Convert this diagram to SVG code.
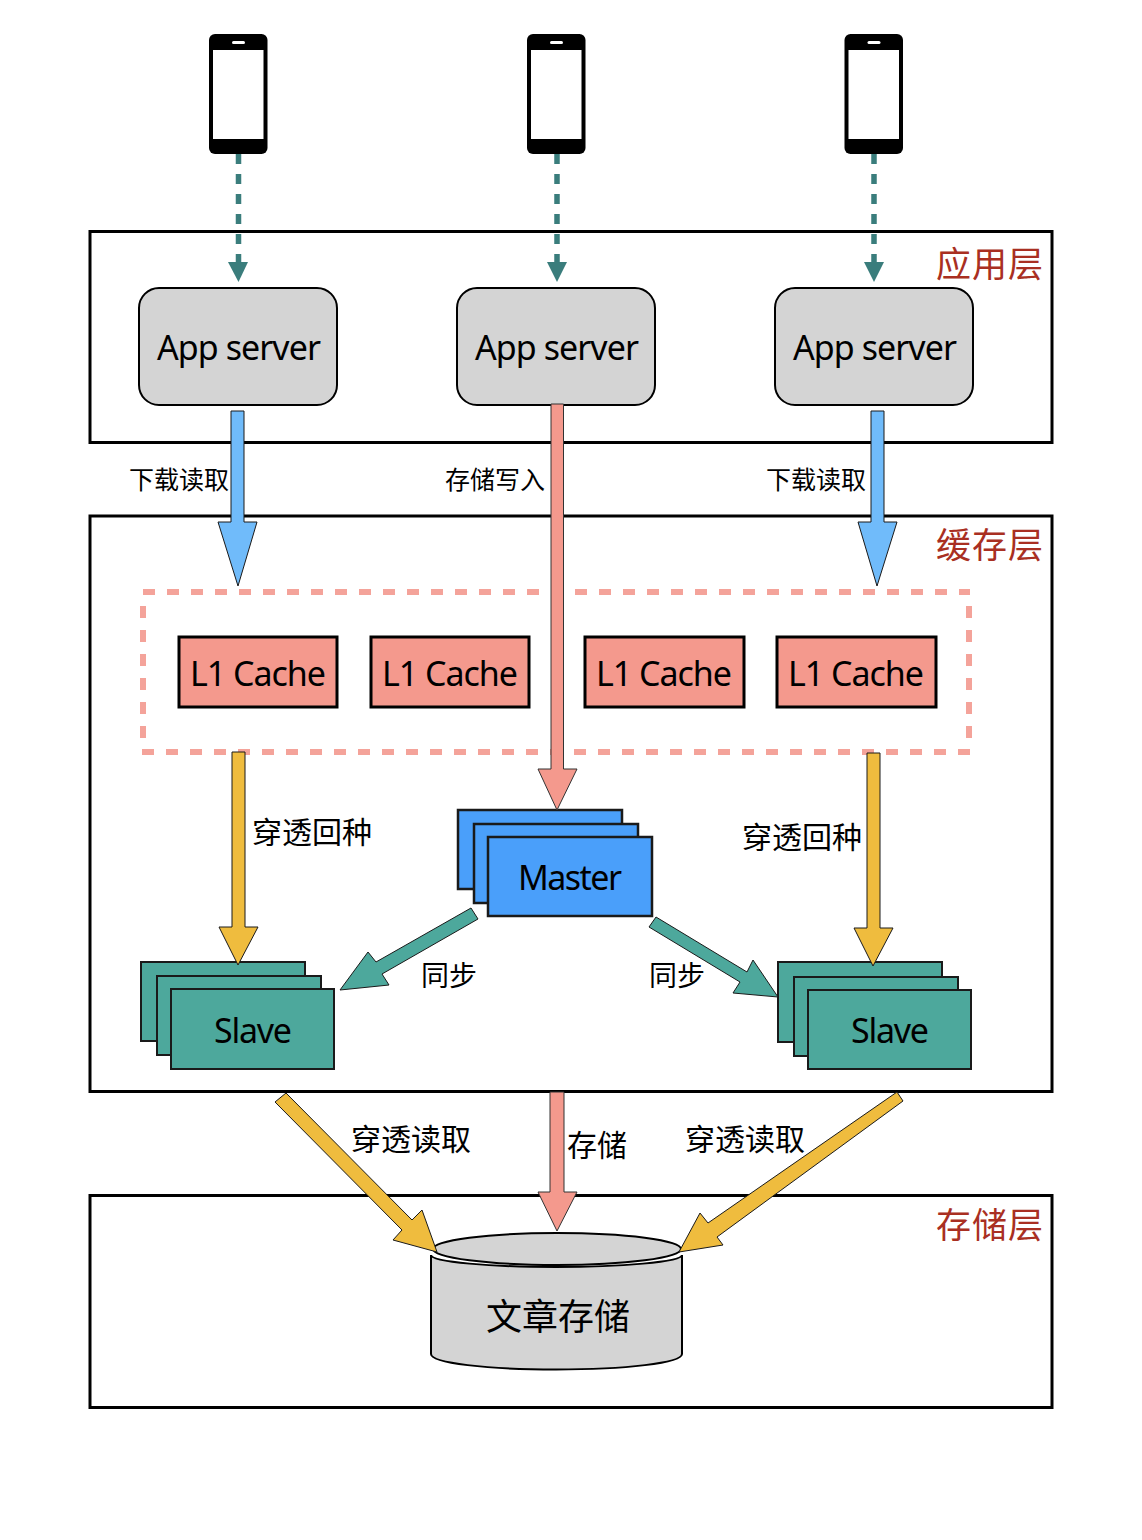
<svg xmlns="http://www.w3.org/2000/svg" width="1142" height="1540" viewBox="0 0 1142 1540">
<style>
text{font-family:"Noto Sans CJK SC","Noto Sans",sans-serif;fill:#000;text-anchor:middle;dominant-baseline:central}
.layer{fill:none;stroke:#000;stroke-width:3}
.latin{font-family:"Noto Sans","Noto Sans CJK SC",sans-serif}
.ln{font-size:34px}
.red{font-size:35px;fill:#a92f22;letter-spacing:1px}
.s25{font-size:25px}
.s30{font-size:30px}
.s28{font-size:28px}
.app{fill:#d4d4d4;stroke:#000;stroke-width:2}
.l1{fill:#f4998d;stroke:#000;stroke-width:3}
.m{fill:#4a9ffa;stroke:#1a1a1a;stroke-width:2.5}
.sl{fill:#4da89c;stroke:#1a1a1a;stroke-width:2}
.blue{fill:#70bbfa;stroke:#1a1a1a;stroke-width:1}
.pink{fill:#f4998d;stroke:#333;stroke-width:1}
.yel{fill:#efbc3e;stroke:#1a1a1a;stroke-width:1}
.teal{fill:#4da89c;stroke:#1a1a1a;stroke-width:1}
.dash{stroke:#3a7d7c;stroke-width:5.5;stroke-dasharray:10 10;fill:none}
.dh{fill:#3a7d7c}
.cg{fill:none;stroke:#f4a39a;stroke-width:6;stroke-dasharray:12 12}
</style>
<defs>
<g id="phone">
<rect x="0" y="0" width="58.5" height="120" rx="6" fill="#000"/>
<rect x="4" y="16" width="50.5" height="89" fill="#fff"/>
<rect x="23" y="7" width="13" height="3" rx="1.5" fill="#fff"/>
</g>
</defs>
<rect id="layer-app" class="layer" x="90" y="231.5" width="962" height="211"/>
<rect id="layer-cache" class="layer" x="90" y="516" width="962" height="575.5"/>
<rect id="layer-store" class="layer" x="90" y="1195.5" width="962" height="212"/>
<g id="cache-group">
<path class="cg" d="M143 592H970"/>
<path class="cg" d="M142 752H970"/>
<path class="cg" d="M143 606V746"/>
<path class="cg" d="M969 606V746"/>
</g>
<g id="phone1"><use href="#phone" x="209" y="34"/></g>
<g id="phone2"><use href="#phone" x="527" y="34"/></g>
<g id="phone3"><use href="#phone" x="844.5" y="34"/></g>
<g id="app1"><rect class="app" x="139" y="288" width="198" height="117" rx="20"/><text class="latin ln" x="239" y="347" textLength="164">App server</text></g>
<g id="app2"><rect class="app" x="457" y="288" width="198" height="117" rx="20"/><text class="latin ln" x="557" y="347" textLength="164">App server</text></g>
<g id="app3"><rect class="app" x="775" y="288" width="198" height="117" rx="20"/><text class="latin ln" x="875" y="347" textLength="164">App server</text></g>
<g id="l1a"><rect class="l1" x="179" y="637" width="158" height="70"/><text class="latin ln" x="258" y="673" textLength="136">L1 Cache</text></g>
<g id="l1b"><rect class="l1" x="371" y="637" width="158" height="70"/><text class="latin ln" x="450" y="673" textLength="136">L1 Cache</text></g>
<g id="l1c"><rect class="l1" x="585" y="637" width="159" height="70"/><text class="latin ln" x="664" y="673" textLength="136">L1 Cache</text></g>
<g id="l1d"><rect class="l1" x="777" y="637" width="159" height="70"/><text class="latin ln" x="856" y="673" textLength="136">L1 Cache</text></g>
<g id="master"><rect class="m" x="458" y="810" width="164" height="79"/><rect class="m" x="474" y="824" width="164" height="79"/><rect class="m" x="488" y="837" width="164" height="79"/><text class="latin ln" x="570" y="877" textLength="104">Master</text></g>
<g id="slave1"><rect class="sl" x="141" y="962" width="164" height="79"/><rect class="sl" x="157" y="976" width="164" height="79"/><rect class="sl" x="171" y="989" width="163" height="80"/><text class="latin ln" x="253" y="1030" textLength="78">Slave</text></g>
<g id="slave2"><rect class="sl" x="778" y="962" width="164" height="80"/><rect class="sl" x="794" y="977" width="164" height="79"/><rect class="sl" x="808" y="990" width="163" height="79"/><text class="latin ln" x="890" y="1030" textLength="78">Slave</text></g>
<g id="storage">
<path d="M431 1255V1354C431 1363 487 1369.500 556 1369.500S682 1363 682 1354V1255C682 1262 620 1267 556 1267S431 1262 431 1255Z" fill="#d4d4d4" stroke="#000" stroke-width="2"/>
<ellipse cx="557" cy="1249" rx="124" ry="16" fill="#d4d4d4" stroke="#000" stroke-width="2"/>
<text x="558" y="1314" font-size="36">文章存储</text>
</g>
<g id="connectors">
<path class="dash" d="M238.500 154V262"/><polygon class="dh" points="228,262 248,262 238.500,282"/>
<path class="dash" d="M557 154V262"/><polygon class="dh" points="547,262 567,262 557,282"/>
<path class="dash" d="M874 154V262"/><polygon class="dh" points="864,262 884,262 874,282"/>
<polygon class="blue" points="231,411 244,411 244,522 257,522 238,586 218,522 231,522"/>
<polygon class="blue" points="871,411 884,411 884,522 897,522 877,586 858,522 871,522"/>
<polygon class="pink" points="551,404 563.500,404 563.500,769 577,769 557,810 538,769 551,769"/>
<polygon class="pink" points="550,1092 564,1092 564,1192 577,1192 557,1231 538,1192 550,1192"/>
<polygon class="yel" points="232,752 245,752 245,927 258,927 238,965 219,927 232,927"/>
<polygon class="yel" points="867,753 880,753 880,928 893,928 873,966 854,928 867,928"/>
<polygon class="teal" points="471,908 478,919 382,974 389,985 340,990 368,952 376,962"/>
<polygon class="teal" points="656,917 747,972 753,960 778,997 733,993 740,982 649,927"/>
<polygon class="yel" points="286,1093 412,1220 422,1210 437,1252 393,1240 402,1230 275,1102"/>
<polygon class="yel" points="897,1092 903,1101 717,1237 723,1245 679,1252 700,1213 708,1223"/>
</g>
<g id="labels">
<text class="red" x="990" y="261">应用层</text>
<text class="red" x="990" y="542">缓存层</text>
<text class="red" x="990" y="1222">存储层</text>
<text class="s25" x="179" y="478">下载读取</text>
<text class="s25" x="495" y="478">存储写入</text>
<text class="s25" x="816" y="478">下载读取</text>
<text class="s30" x="312" y="830">穿透回种</text>
<text class="s30" x="802" y="835">穿透回种</text>
<text class="s28" x="449" y="974">同步</text>
<text class="s28" x="677" y="974">同步</text>
<text class="s30" x="411" y="1137">穿透读取</text>
<text class="s30" x="597" y="1143">存储</text>
<text class="s30" x="745" y="1137">穿透读取</text>
</g>
</svg>
